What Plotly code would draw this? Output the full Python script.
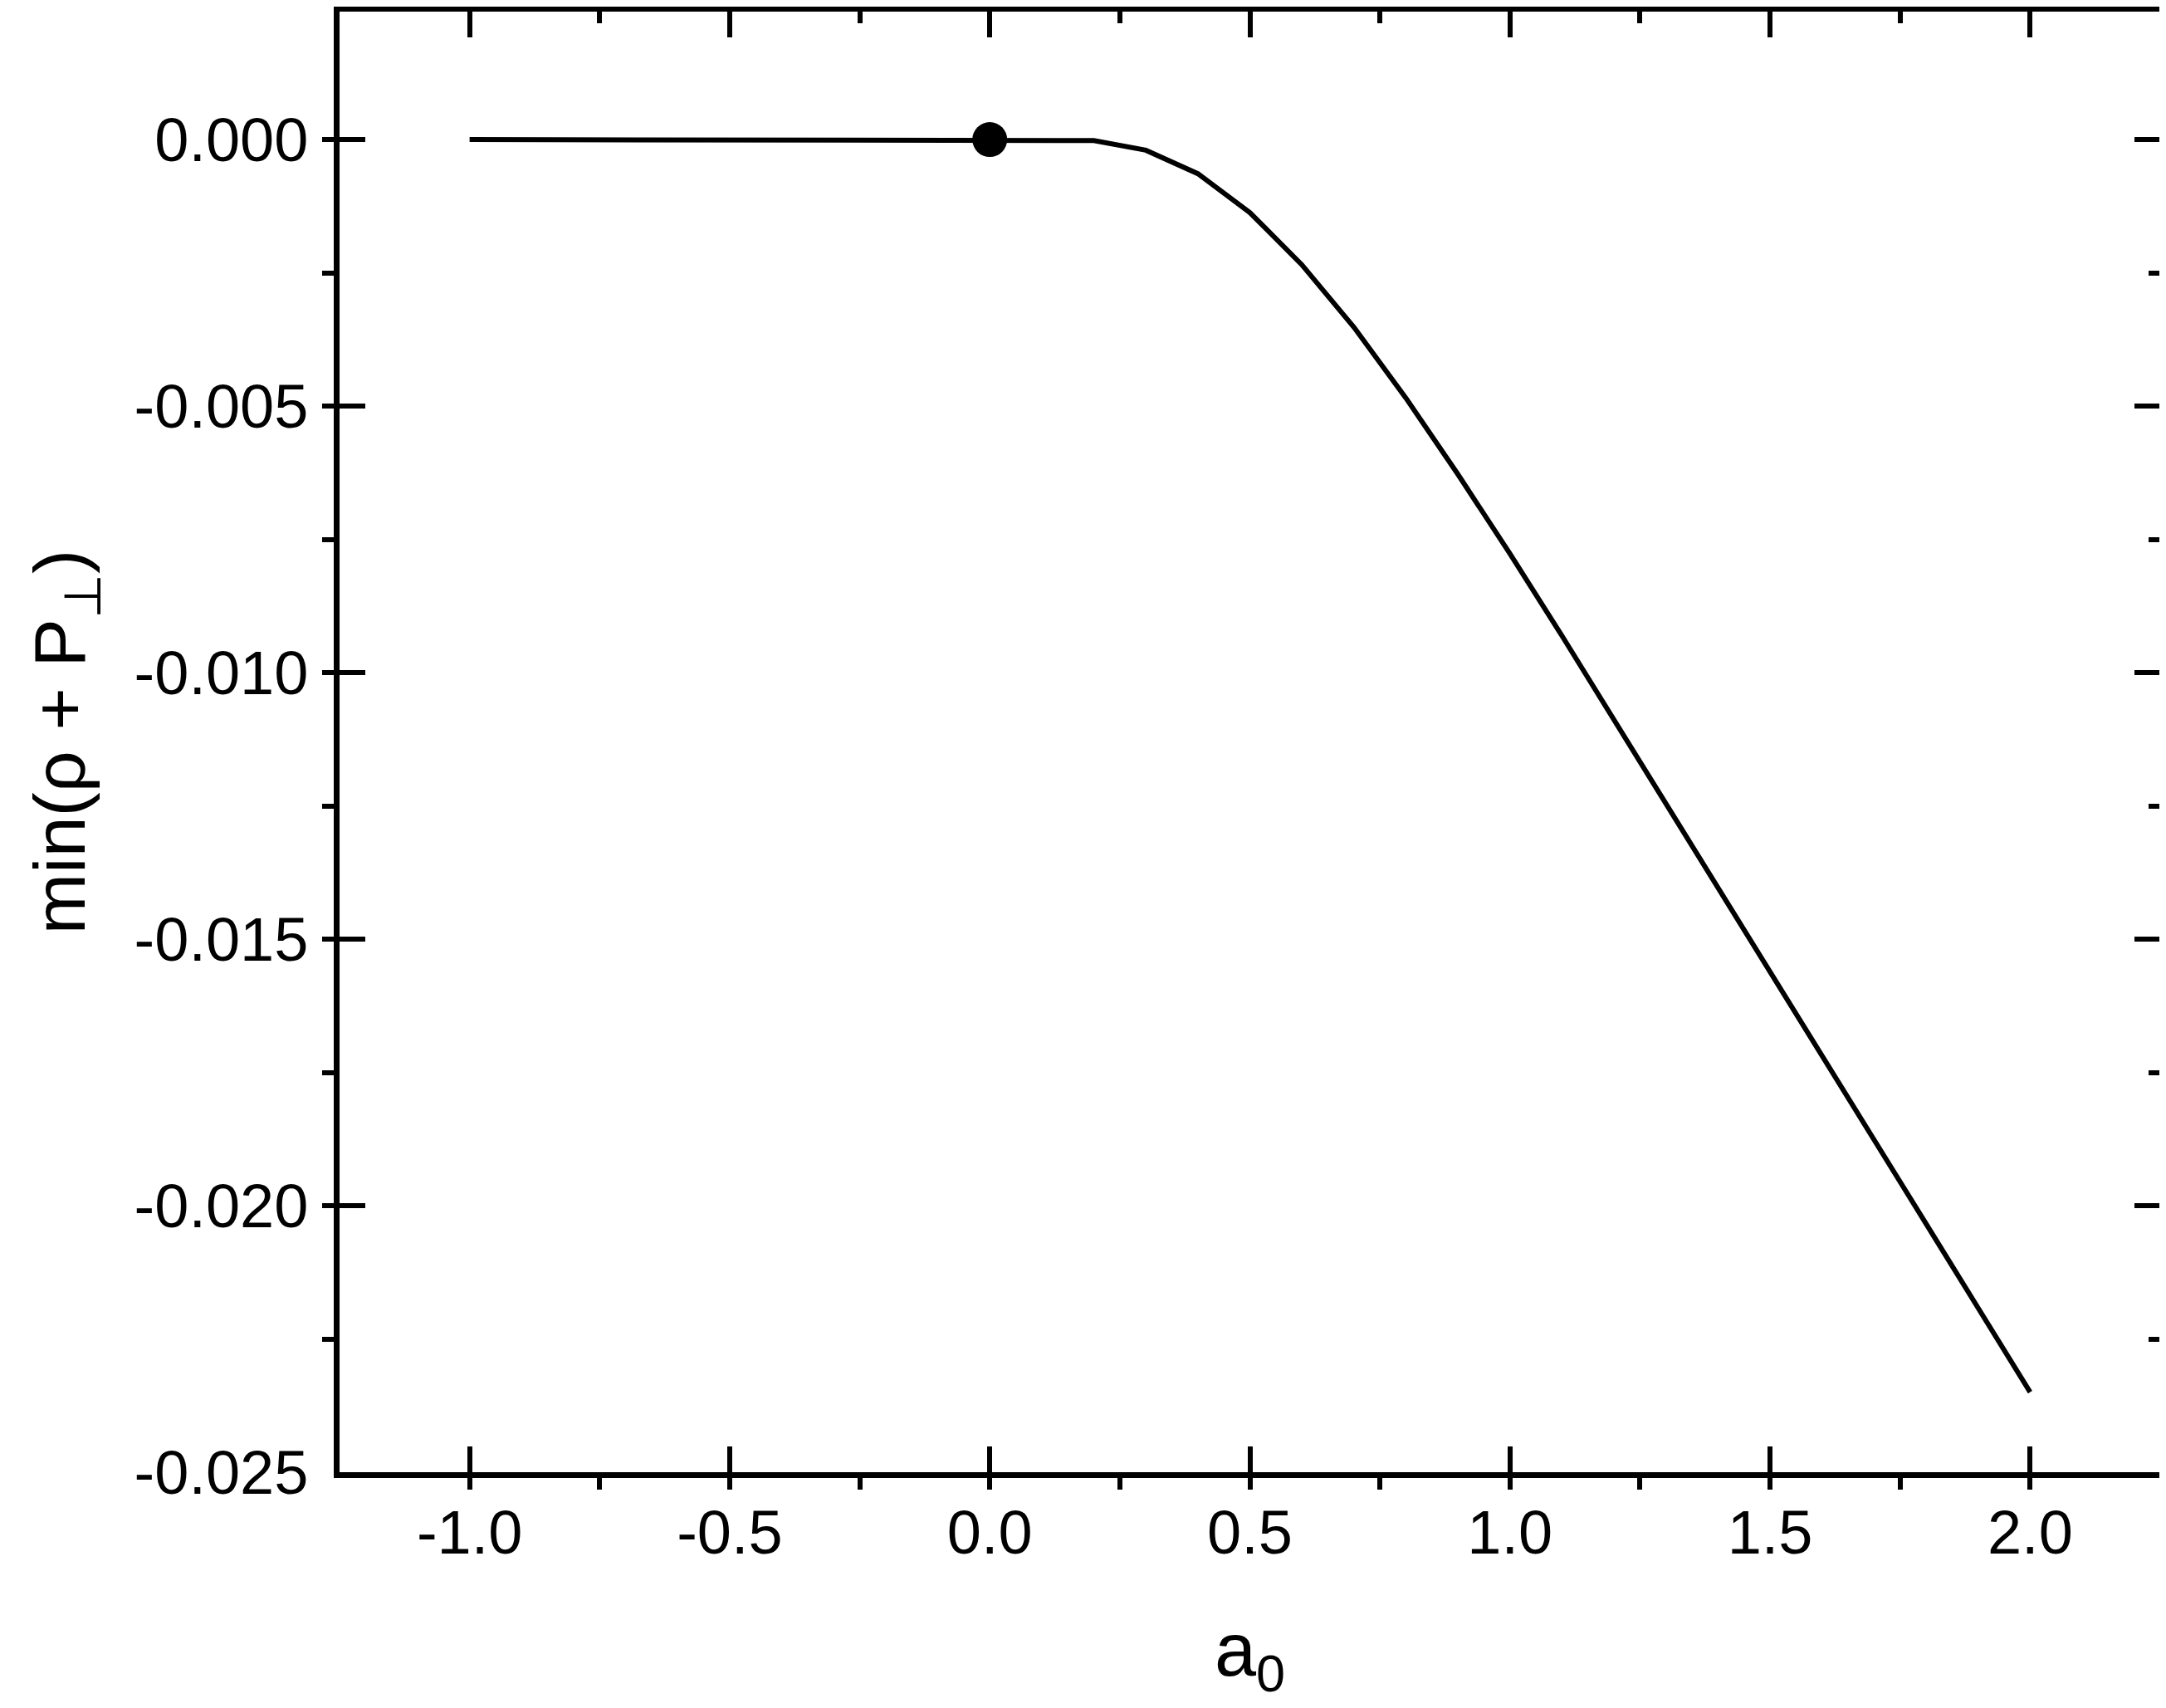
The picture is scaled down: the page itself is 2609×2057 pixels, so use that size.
import plotly.graph_objects as go

# ---- data ----
a0 = [-1.0, -0.9, -0.8, -0.7, -0.6, -0.5, -0.4, -0.3, -0.2, -0.1, 0.0,
      0.1, 0.2, 0.3, 0.4, 0.5, 0.6, 0.7, 0.8, 0.9, 1.0,
      1.1, 1.2, 1.3, 1.4, 1.5, 1.6, 1.7, 1.8, 1.9, 2.0]
min_rho_p = [0.0, 0.0, 0.0, 0.0, 0.0, 0.0, 0.0, 0.0, 0.0, 0.0, 0.0,
             0.0, -0.00002, -0.00020, -0.00064, -0.00137, -0.00235, -0.00352, -0.00485, -0.00628, -0.00777,
             -0.00931, -0.01088, -0.01246, -0.01404, -0.01562, -0.01720, -0.01877, -0.02034, -0.02192, -0.02350]
marker_x = [0.0]
marker_y = [0.0]

x_range = [-1.25, 2.25]
y_range = [-0.025, 0.0024]
x_ticks = [-1.0, -0.5, 0.0, 0.5, 1.0, 1.5, 2.0]
x_ticklabels = ["-1.0", "-0.5", "0.0", "0.5", "1.0", "1.5", "2.0"]
y_ticks = [0.0, -0.005, -0.010, -0.015, -0.020, -0.025]
y_ticklabels = ["0.000", "-0.005", "-0.010", "-0.015", "-0.020", "-0.025"]

FONT = "Arial, Liberation Sans, sans-serif"

fig = go.Figure()
fig.add_trace(go.Scatter(x=a0, y=min_rho_p, mode="lines",
                         line=dict(color="black", width=6), showlegend=False))
fig.add_trace(go.Scatter(x=marker_x, y=marker_y, mode="markers",
                         marker=dict(color="black", size=42), showlegend=False))
# dummy trace to activate the mirrored (top/right) axes
fig.add_trace(go.Scatter(x=[None], y=[None], xaxis="x2", yaxis="y2",
                         showlegend=False, hoverinfo="skip"))

common = dict(showline=True, linecolor="black", linewidth=6.5, showgrid=False,
              zeroline=False, ticks="inside", ticklen=31, tickwidth=6, tickcolor="black")

fig.update_layout(
    width=2601, height=2049,
    margin=dict(l=401, r=7, t=6, b=284, autoexpand=False),
    paper_bgcolor="white", plot_bgcolor="white",
    font=dict(family=FONT, color="black"),
    xaxis=dict(range=x_range, tickvals=x_ticks, ticktext=x_ticklabels,
               tickfont=dict(size=74, family=FONT), ticklabelstandoff=2,
               minor=dict(ticks="outside", ticklen=14, tickwidth=6, tickcolor="black", dtick=0.25, tick0=0),
               title=dict(text="a<sub>0</sub>", font=dict(size=90, family=FONT), standoff=72),
               mirror=True, **common),
    yaxis=dict(range=y_range, tickvals=y_ticks, ticktext=y_ticklabels,
               tickfont=dict(size=74, family=FONT), ticklabelstandoff=16,
               minor=dict(ticks="outside", ticklen=14, tickwidth=6, tickcolor="black", dtick=0.0025, tick0=0),
               title=dict(text="min(ρ + P<sub>⊥</sub>)", font=dict(size=88, family=FONT), standoff=32),
               mirror=True, **common),
    xaxis2=dict(range=x_range, overlaying="x", side="top", tickvals=x_ticks,
                showticklabels=False,
                minor=dict(ticks="inside", ticklen=14, tickwidth=6, tickcolor="black", dtick=0.25, tick0=0),
                **common),
    yaxis2=dict(range=y_range, overlaying="y", side="right", tickvals=y_ticks,
                showticklabels=False,
                minor=dict(ticks="inside", ticklen=14, tickwidth=6, tickcolor="black", dtick=0.0025, tick0=0),
                **common),
)

fig.write_html("out.html")
